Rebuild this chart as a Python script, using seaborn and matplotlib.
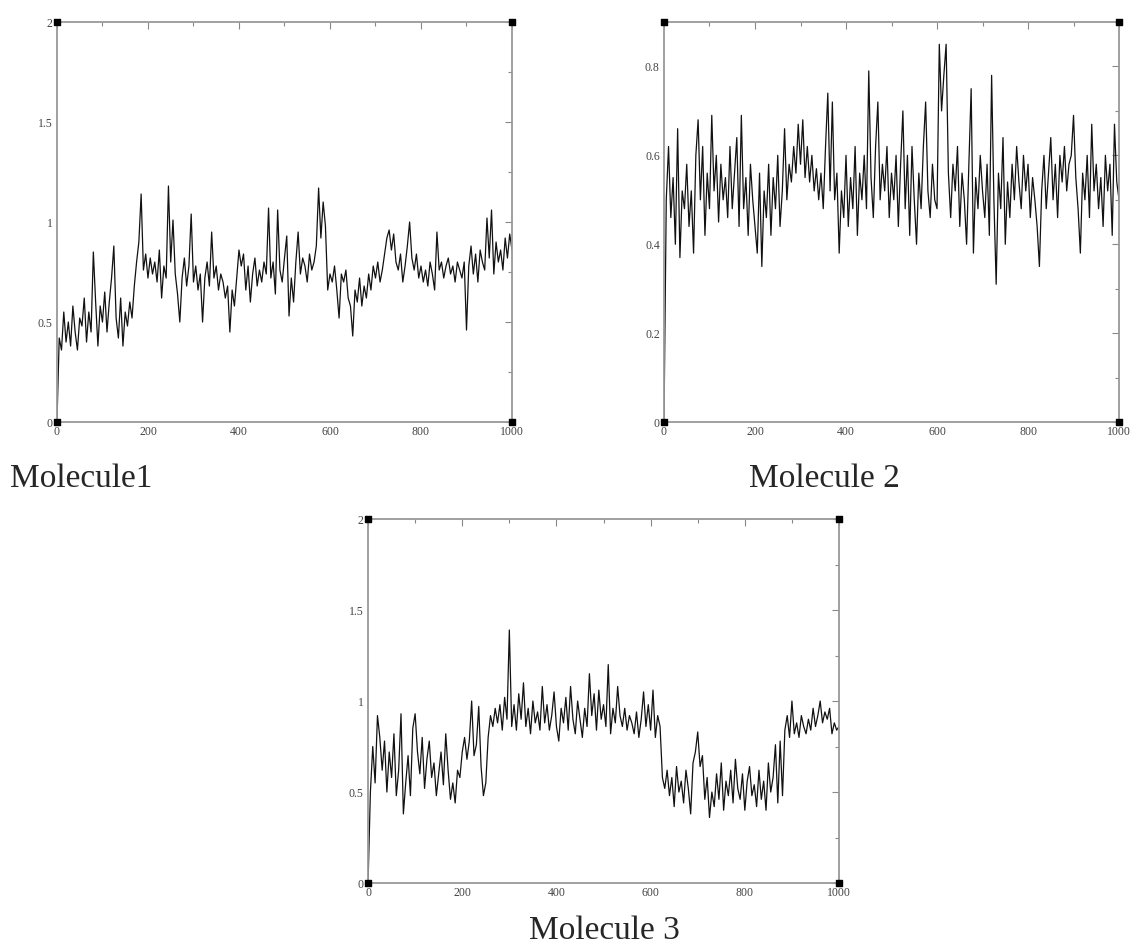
import numpy as np
import pandas as pd
import seaborn as sns
from matplotlib import pyplot as plt
from matplotlib.ticker import MultipleLocator

# time axis (ns), one reading every 5 units
time = list(range(0, 1001, 5))

mol1 = [
    0.00, 0.42, 0.36, 0.55, 0.40, 0.50, 0.38, 0.58, 0.45, 0.36, 0.52, 0.48, 0.62, 0.40, 0.55, 0.45, 0.85, 0.60, 0.38, 0.58,
    0.50, 0.65, 0.45, 0.60, 0.72, 0.88, 0.52, 0.42, 0.62, 0.38, 0.55, 0.48, 0.60, 0.52, 0.68, 0.80, 0.90, 1.14, 0.76, 0.84,
    0.72, 0.82, 0.74, 0.80, 0.70, 0.86, 0.62, 0.78, 0.72, 1.18, 0.80, 1.01, 0.74, 0.64, 0.50, 0.72, 0.82, 0.68, 0.78, 1.04,
    0.70, 0.78, 0.66, 0.74, 0.50, 0.72, 0.80, 0.68, 0.95, 0.72, 0.78, 0.66, 0.74, 0.70, 0.62, 0.68, 0.45, 0.66, 0.58, 0.72,
    0.86, 0.78, 0.84, 0.66, 0.78, 0.60, 0.74, 0.82, 0.68, 0.76, 0.70, 0.80, 0.74, 1.07, 0.72, 0.80, 0.64, 1.06, 0.76, 0.70,
    0.82, 0.93, 0.53, 0.72, 0.60, 0.80, 0.95, 0.74, 0.82, 0.78, 0.70, 0.84, 0.76, 0.80, 0.88, 1.17, 0.92, 1.10, 0.98, 0.66,
    0.74, 0.70, 0.78, 0.66, 0.52, 0.74, 0.70, 0.76, 0.62, 0.58, 0.43, 0.66, 0.60, 0.72, 0.58, 0.68, 0.62, 0.74, 0.66, 0.78,
    0.72, 0.80, 0.70, 0.76, 0.84, 0.92, 0.96, 0.86, 0.94, 0.80, 0.76, 0.84, 0.70, 0.78, 0.88, 1.00, 0.82, 0.76, 0.84, 0.72,
    0.78, 0.70, 0.76, 0.68, 0.80, 0.74, 0.66, 0.95, 0.76, 0.80, 0.72, 0.78, 0.82, 0.74, 0.78, 0.70, 0.80, 0.76, 0.72, 0.80,
    0.46, 0.78, 0.88, 0.74, 0.84, 0.70, 0.86, 0.80, 0.76, 1.02, 0.82, 1.06, 0.74, 0.90, 0.80, 0.86, 0.76, 0.92, 0.82, 0.94,
    0.86,
]

mol2 = [
    0.00, 0.50, 0.62, 0.46, 0.55, 0.40, 0.66, 0.37, 0.52, 0.48, 0.58, 0.44, 0.52, 0.38, 0.60, 0.68, 0.50, 0.62, 0.42, 0.56,
    0.48, 0.69, 0.52, 0.60, 0.45, 0.58, 0.50, 0.55, 0.46, 0.62, 0.48, 0.56, 0.64, 0.44, 0.69, 0.48, 0.55, 0.42, 0.58, 0.50,
    0.44, 0.38, 0.56, 0.35, 0.52, 0.46, 0.58, 0.42, 0.55, 0.48, 0.60, 0.44, 0.52, 0.66, 0.50, 0.58, 0.54, 0.62, 0.56, 0.67,
    0.58, 0.68, 0.55, 0.62, 0.54, 0.60, 0.52, 0.57, 0.50, 0.56, 0.48, 0.62, 0.74, 0.52, 0.72, 0.50, 0.56, 0.38, 0.52, 0.46,
    0.60, 0.44, 0.55, 0.48, 0.62, 0.42, 0.56, 0.50, 0.60, 0.48, 0.79, 0.55, 0.46, 0.62, 0.72, 0.50, 0.58, 0.52, 0.62, 0.46,
    0.56, 0.50, 0.60, 0.44, 0.58, 0.70, 0.48, 0.60, 0.42, 0.62, 0.50, 0.40, 0.56, 0.48, 0.62, 0.72, 0.52, 0.46, 0.58, 0.50,
    0.48, 0.85, 0.70, 0.78, 0.85, 0.56, 0.46, 0.58, 0.52, 0.62, 0.44, 0.56, 0.50, 0.40, 0.58, 0.75, 0.38, 0.55, 0.48, 0.60,
    0.52, 0.46, 0.58, 0.42, 0.78, 0.50, 0.31, 0.56, 0.48, 0.64, 0.40, 0.54, 0.46, 0.58, 0.50, 0.62, 0.54, 0.48, 0.60, 0.52,
    0.58, 0.46, 0.55, 0.50, 0.44, 0.35, 0.52, 0.60, 0.48, 0.56, 0.64, 0.50, 0.58, 0.46, 0.60, 0.54, 0.62, 0.52, 0.58, 0.60,
    0.69, 0.55, 0.48, 0.38, 0.56, 0.50, 0.60, 0.46, 0.67, 0.52, 0.58, 0.48, 0.55, 0.44, 0.60, 0.52, 0.58, 0.42, 0.67, 0.54,
    0.50,
]

mol3 = [
    0.00, 0.50, 0.75, 0.55, 0.92, 0.80, 0.62, 0.78, 0.50, 0.72, 0.58, 0.82, 0.48, 0.62, 0.93, 0.38, 0.55, 0.70, 0.48, 0.85,
    0.93, 0.72, 0.60, 0.80, 0.52, 0.68, 0.78, 0.58, 0.66, 0.48, 0.60, 0.72, 0.54, 0.82, 0.62, 0.46, 0.55, 0.44, 0.62, 0.58,
    0.72, 0.80, 0.68, 0.78, 1.00, 0.70, 0.76, 0.97, 0.64, 0.48, 0.55, 0.80, 0.92, 0.86, 0.96, 0.88, 0.98, 0.84, 1.02, 0.90,
    1.39, 0.86, 0.98, 0.84, 1.04, 0.90, 1.10, 0.86, 0.96, 0.82, 1.00, 0.88, 0.94, 0.84, 1.08, 0.88, 0.98, 0.84, 0.92, 1.05,
    0.86, 0.78, 0.96, 0.88, 1.02, 0.84, 1.08, 0.90, 0.82, 1.00, 0.90, 0.80, 0.96, 0.86, 1.15, 0.92, 1.04, 0.84, 1.06, 0.90,
    0.98, 0.86, 1.20, 0.82, 0.96, 0.88, 1.08, 0.92, 0.86, 0.96, 0.84, 0.92, 0.88, 0.82, 0.94, 0.80, 0.90, 1.05, 0.86, 0.98,
    0.84, 1.06, 0.80, 0.92, 0.86, 0.58, 0.52, 0.62, 0.48, 0.58, 0.42, 0.64, 0.50, 0.56, 0.44, 0.62, 0.52, 0.38, 0.66, 0.72,
    0.83, 0.64, 0.70, 0.46, 0.58, 0.36, 0.50, 0.42, 0.60, 0.46, 0.66, 0.40, 0.56, 0.48, 0.62, 0.44, 0.68, 0.52, 0.46, 0.60,
    0.40, 0.56, 0.64, 0.48, 0.54, 0.42, 0.62, 0.46, 0.56, 0.40, 0.66, 0.50, 0.58, 0.76, 0.44, 0.78, 0.48, 0.84, 0.92, 0.80,
    1.00, 0.82, 0.88, 0.80, 0.92, 0.86, 0.82, 0.90, 0.84, 0.96, 0.86, 0.92, 1.00, 0.88, 0.94, 0.90, 0.96, 0.82, 0.88, 0.84,
    0.86,
]

names = ['Molecule1', 'Molecule 2', 'Molecule 3']
ymax = [2.0, 0.9, 2.0]
ymajor = [0.5, 0.2, 0.5]
yminor = [0.25, 0.1, 0.25]
xlim = [0, 1000]


def style_axis(ax, top, major, minor):
    ax.set_xlim(*xlim)
    ax.set_ylim(0, top)
    ax.xaxis.set_major_locator(MultipleLocator(200))
    ax.xaxis.set_minor_locator(MultipleLocator(100))
    ax.yaxis.set_major_locator(MultipleLocator(major))
    ax.yaxis.set_minor_locator(MultipleLocator(minor))
    ax.yaxis.set_major_formatter(plt.FuncFormatter(lambda v, p: '%g' % v))
    ax.tick_params(which='both', direction='in', top=True, right=True,
                   color='#888888', labelsize=8.5, labelcolor='#444444', pad=3)
    ax.tick_params(which='major', length=5, width=0.8)
    ax.tick_params(which='minor', length=3, width=0.8)
    for s in ax.spines.values():
        s.set_color('#999999')
        s.set_linewidth(1.3)
    ax.set_xlabel('')
    ax.set_ylabel('')
    # black square markers at the four corners, as in the xmgrace output
    cx = [xlim[0], xlim[1], xlim[0], xlim[1]]
    cy = [0, 0, top, top]
    ax.scatter(cx, cy, marker='s', s=22, color='black', zorder=5, clip_on=False)


def draw():
    sns.set_style('white')
    plt.rcParams['font.family'] = ['Liberation Serif', 'DejaVu Serif']

    fig = plt.figure(figsize=(11.3, 9.49), dpi=100)
    boxes = [
        [0.0504, 0.5553, 0.4027, 0.4215],
        [0.5876, 0.5553, 0.4027, 0.4215],
        [0.3257, 0.0695, 0.4168, 0.3836],
    ]
    series = [mol1, mol2, mol3]
    for i in range(3):
        ax = fig.add_axes(boxes[i])
        df = pd.DataFrame({'t': time, 'rmsd': series[i]})
        sns.lineplot(data=df, x='t', y='rmsd', ax=ax, color='#111111', linewidth=0.9)
        style_axis(ax, ymax[i], ymajor[i], yminor[i])

    fig.text(10 / 1130, 1 - 487 / 949, names[0], fontsize=24, va='baseline', ha='left')
    fig.text(749 / 1130, 1 - 487 / 949, names[1], fontsize=24, va='baseline', ha='left')
    fig.text(529 / 1130, 1 - 939 / 949, names[2], fontsize=24, va='baseline', ha='left')

    fig.savefig('out.png', dpi=100)


if __name__ == '__main__':
    draw()
